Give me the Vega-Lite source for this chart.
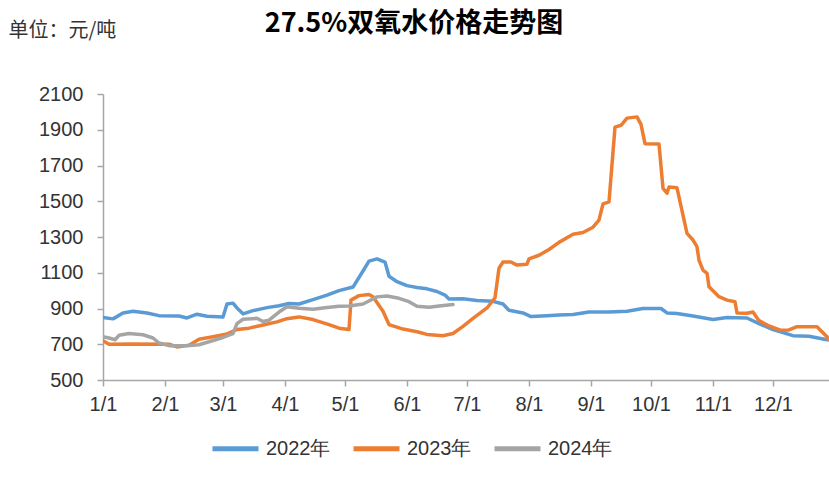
{
  "$schema": "https://vega.github.io/schema/vega-lite/v6.json",
  "autosize": "none",
  "width": 726,
  "height": 286,
  "padding": {"left": 103, "top": 94, "right": 0, "bottom": 106},
  "background": "white",
  "title": {
    "text": "27.5%双氧水价格走势图",
    "font": "Noto Sans CJK SC",
    "fontSize": 27,
    "fontWeight": "bold",
    "color": "#000000",
    "anchor": "middle",
    "frame": "group",
    "dx": -52,
    "dy": 18,
    "offset": 0
  },
  "data": {
    "values": [
      {"date": "2022/01/01", "series": "2022年", "price": 850},
      {"date": "2022/01/06", "series": "2022年", "price": 842},
      {"date": "2022/01/11", "series": "2022年", "price": 875},
      {"date": "2022/01/16", "series": "2022年", "price": 885},
      {"date": "2022/01/23", "series": "2022年", "price": 875},
      {"date": "2022/01/29", "series": "2022年", "price": 860},
      {"date": "2022/02/08", "series": "2022年", "price": 858},
      {"date": "2022/02/12", "series": "2022年", "price": 847},
      {"date": "2022/02/17", "series": "2022年", "price": 868},
      {"date": "2022/02/22", "series": "2022年", "price": 857},
      {"date": "2022/03/01", "series": "2022年", "price": 852},
      {"date": "2022/03/03", "series": "2022年", "price": 925},
      {"date": "2022/03/06", "series": "2022年", "price": 930},
      {"date": "2022/03/08", "series": "2022年", "price": 903},
      {"date": "2022/03/11", "series": "2022年", "price": 870},
      {"date": "2022/03/16", "series": "2022年", "price": 888},
      {"date": "2022/03/23", "series": "2022年", "price": 905},
      {"date": "2022/03/29", "series": "2022年", "price": 915},
      {"date": "2022/04/03", "series": "2022年", "price": 928},
      {"date": "2022/04/08", "series": "2022年", "price": 925},
      {"date": "2022/04/15", "series": "2022年", "price": 950},
      {"date": "2022/04/22", "series": "2022年", "price": 975},
      {"date": "2022/04/28", "series": "2022年", "price": 1000},
      {"date": "2022/05/05", "series": "2022年", "price": 1020},
      {"date": "2022/05/10", "series": "2022年", "price": 1110},
      {"date": "2022/05/13", "series": "2022年", "price": 1165},
      {"date": "2022/05/17", "series": "2022年", "price": 1178},
      {"date": "2022/05/21", "series": "2022年", "price": 1160},
      {"date": "2022/05/23", "series": "2022年", "price": 1080},
      {"date": "2022/05/27", "series": "2022年", "price": 1050},
      {"date": "2022/06/01", "series": "2022年", "price": 1028},
      {"date": "2022/06/06", "series": "2022年", "price": 1018},
      {"date": "2022/06/11", "series": "2022年", "price": 1010},
      {"date": "2022/06/16", "series": "2022年", "price": 995},
      {"date": "2022/06/20", "series": "2022年", "price": 975},
      {"date": "2022/06/22", "series": "2022年", "price": 953},
      {"date": "2022/06/29", "series": "2022年", "price": 955},
      {"date": "2022/07/06", "series": "2022年", "price": 945},
      {"date": "2022/07/14", "series": "2022年", "price": 940},
      {"date": "2022/07/19", "series": "2022年", "price": 925},
      {"date": "2022/07/22", "series": "2022年", "price": 890},
      {"date": "2022/07/29", "series": "2022年", "price": 875},
      {"date": "2022/08/02", "series": "2022年", "price": 855},
      {"date": "2022/08/10", "series": "2022年", "price": 860},
      {"date": "2022/08/16", "series": "2022年", "price": 863},
      {"date": "2022/08/23", "series": "2022年", "price": 867},
      {"date": "2022/08/31", "series": "2022年", "price": 880},
      {"date": "2022/09/10", "series": "2022年", "price": 880},
      {"date": "2022/09/19", "series": "2022年", "price": 885},
      {"date": "2022/09/27", "series": "2022年", "price": 900},
      {"date": "2022/10/06", "series": "2022年", "price": 900},
      {"date": "2022/10/09", "series": "2022年", "price": 875},
      {"date": "2022/10/14", "series": "2022年", "price": 872},
      {"date": "2022/10/22", "series": "2022年", "price": 858},
      {"date": "2022/11/01", "series": "2022年", "price": 838},
      {"date": "2022/11/08", "series": "2022年", "price": 850},
      {"date": "2022/11/18", "series": "2022年", "price": 847},
      {"date": "2022/11/24", "series": "2022年", "price": 815},
      {"date": "2022/12/01", "series": "2022年", "price": 782},
      {"date": "2022/12/11", "series": "2022年", "price": 748},
      {"date": "2022/12/19", "series": "2022年", "price": 745},
      {"date": "2022/12/28", "series": "2022年", "price": 725},

      {"date": "2023/01/01", "series": "2023年", "price": 720},
      {"date": "2023/01/04", "series": "2023年", "price": 700},
      {"date": "2023/01/16", "series": "2023年", "price": 702},
      {"date": "2023/02/03", "series": "2023年", "price": 700},
      {"date": "2023/02/07", "series": "2023年", "price": 685},
      {"date": "2023/02/13", "series": "2023年", "price": 695},
      {"date": "2023/02/18", "series": "2023年", "price": 728},
      {"date": "2023/02/25", "series": "2023年", "price": 742},
      {"date": "2023/03/03", "series": "2023年", "price": 757},
      {"date": "2023/03/08", "series": "2023年", "price": 783},
      {"date": "2023/03/14", "series": "2023年", "price": 790},
      {"date": "2023/03/21", "series": "2023年", "price": 808},
      {"date": "2023/03/28", "series": "2023年", "price": 825},
      {"date": "2023/04/02", "series": "2023年", "price": 843},
      {"date": "2023/04/08", "series": "2023年", "price": 853},
      {"date": "2023/04/15", "series": "2023年", "price": 838},
      {"date": "2023/04/23", "series": "2023年", "price": 810},
      {"date": "2023/04/28", "series": "2023年", "price": 790},
      {"date": "2023/05/03", "series": "2023年", "price": 782},
      {"date": "2023/05/04", "series": "2023年", "price": 947},
      {"date": "2023/05/08", "series": "2023年", "price": 972},
      {"date": "2023/05/13", "series": "2023年", "price": 978},
      {"date": "2023/05/15", "series": "2023年", "price": 966},
      {"date": "2023/05/20", "series": "2023年", "price": 885},
      {"date": "2023/05/23", "series": "2023年", "price": 810},
      {"date": "2023/05/30", "series": "2023年", "price": 785},
      {"date": "2023/06/06", "series": "2023年", "price": 770},
      {"date": "2023/06/11", "series": "2023年", "price": 755},
      {"date": "2023/06/19", "series": "2023年", "price": 748},
      {"date": "2023/06/24", "series": "2023年", "price": 760},
      {"date": "2023/06/29", "series": "2023年", "price": 800},
      {"date": "2023/07/04", "series": "2023年", "price": 845},
      {"date": "2023/07/11", "series": "2023年", "price": 903},
      {"date": "2023/07/15", "series": "2023年", "price": 960},
      {"date": "2023/07/17", "series": "2023年", "price": 1125},
      {"date": "2023/07/19", "series": "2023年", "price": 1160},
      {"date": "2023/07/23", "series": "2023年", "price": 1160},
      {"date": "2023/07/26", "series": "2023年", "price": 1143},
      {"date": "2023/07/31", "series": "2023年", "price": 1148},
      {"date": "2023/08/01", "series": "2023年", "price": 1178},
      {"date": "2023/08/06", "series": "2023年", "price": 1198},
      {"date": "2023/08/11", "series": "2023年", "price": 1230},
      {"date": "2023/08/16", "series": "2023年", "price": 1270},
      {"date": "2023/08/23", "series": "2023年", "price": 1315},
      {"date": "2023/08/28", "series": "2023年", "price": 1325},
      {"date": "2023/09/02", "series": "2023年", "price": 1355},
      {"date": "2023/09/05", "series": "2023年", "price": 1395},
      {"date": "2023/09/07", "series": "2023年", "price": 1485},
      {"date": "2023/09/10", "series": "2023年", "price": 1497},
      {"date": "2023/09/13", "series": "2023年", "price": 1915},
      {"date": "2023/09/16", "series": "2023年", "price": 1925},
      {"date": "2023/09/19", "series": "2023年", "price": 1965},
      {"date": "2023/09/24", "series": "2023年", "price": 1972},
      {"date": "2023/09/26", "series": "2023年", "price": 1930},
      {"date": "2023/09/28", "series": "2023年", "price": 1822},
      {"date": "2023/10/05", "series": "2023年", "price": 1820},
      {"date": "2023/10/07", "series": "2023年", "price": 1572},
      {"date": "2023/10/09", "series": "2023年", "price": 1545},
      {"date": "2023/10/10", "series": "2023年", "price": 1580},
      {"date": "2023/10/14", "series": "2023年", "price": 1575},
      {"date": "2023/10/19", "series": "2023年", "price": 1320},
      {"date": "2023/10/22", "series": "2023年", "price": 1283},
      {"date": "2023/10/24", "series": "2023年", "price": 1246},
      {"date": "2023/10/25", "series": "2023年", "price": 1170},
      {"date": "2023/10/27", "series": "2023年", "price": 1115},
      {"date": "2023/10/29", "series": "2023年", "price": 1097},
      {"date": "2023/10/30", "series": "2023年", "price": 1022},
      {"date": "2023/11/04", "series": "2023年", "price": 966},
      {"date": "2023/11/08", "series": "2023年", "price": 947},
      {"date": "2023/11/12", "series": "2023年", "price": 938},
      {"date": "2023/11/13", "series": "2023年", "price": 875},
      {"date": "2023/11/18", "series": "2023年", "price": 873},
      {"date": "2023/11/21", "series": "2023年", "price": 880},
      {"date": "2023/11/24", "series": "2023年", "price": 832},
      {"date": "2023/11/29", "series": "2023年", "price": 802},
      {"date": "2023/12/05", "series": "2023年", "price": 778},
      {"date": "2023/12/09", "series": "2023年", "price": 780},
      {"date": "2023/12/13", "series": "2023年", "price": 798},
      {"date": "2023/12/23", "series": "2023年", "price": 798},
      {"date": "2023/12/28", "series": "2023年", "price": 742},
      {"date": "2023/12/29", "series": "2023年", "price": 724},

      {"date": "2024/01/01", "series": "2024年", "price": 742},
      {"date": "2024/01/04", "series": "2024年", "price": 735},
      {"date": "2024/01/07", "series": "2024年", "price": 725},
      {"date": "2024/01/09", "series": "2024年", "price": 750},
      {"date": "2024/01/14", "series": "2024年", "price": 760},
      {"date": "2024/01/21", "series": "2024年", "price": 753},
      {"date": "2024/01/26", "series": "2024年", "price": 735},
      {"date": "2024/01/29", "series": "2024年", "price": 707},
      {"date": "2024/02/03", "series": "2024年", "price": 692},
      {"date": "2024/02/12", "series": "2024年", "price": 692},
      {"date": "2024/02/18", "series": "2024年", "price": 697},
      {"date": "2024/02/23", "series": "2024年", "price": 714},
      {"date": "2024/03/01", "series": "2024年", "price": 738},
      {"date": "2024/03/06", "series": "2024年", "price": 760},
      {"date": "2024/03/08", "series": "2024年", "price": 815},
      {"date": "2024/03/11", "series": "2024年", "price": 840},
      {"date": "2024/03/18", "series": "2024年", "price": 845},
      {"date": "2024/03/21", "series": "2024年", "price": 827},
      {"date": "2024/03/24", "series": "2024年", "price": 835},
      {"date": "2024/03/29", "series": "2024年", "price": 880},
      {"date": "2024/04/02", "series": "2024年", "price": 910},
      {"date": "2024/04/08", "series": "2024年", "price": 902},
      {"date": "2024/04/15", "series": "2024年", "price": 896},
      {"date": "2024/04/22", "series": "2024年", "price": 905},
      {"date": "2024/04/28", "series": "2024年", "price": 913},
      {"date": "2024/05/03", "series": "2024年", "price": 914},
      {"date": "2024/05/10", "series": "2024年", "price": 925},
      {"date": "2024/05/17", "series": "2024年", "price": 965},
      {"date": "2024/05/22", "series": "2024年", "price": 970},
      {"date": "2024/05/28", "series": "2024年", "price": 957},
      {"date": "2024/06/02", "series": "2024年", "price": 938},
      {"date": "2024/06/06", "series": "2024年", "price": 912},
      {"date": "2024/06/12", "series": "2024年", "price": 907},
      {"date": "2024/06/17", "series": "2024年", "price": 914},
      {"date": "2024/06/24", "series": "2024年", "price": 922}
    ]
  },
  "mark": {"type": "line", "strokeWidth": 3.5, "strokeJoin": "round", "strokeCap": "round", "clip": true},
  "encoding": {
    "x": {
      "field": "date",
      "type": "temporal",
      "timeUnit": "monthdate",
      "scale": {"domain": [{"month": 1, "date": 1}, {"month": 12, "date": 29}]},
      "axis": {
        "title": null,
        "format": "%-m/%-d",
        "values": [
          {"month": 1, "date": 1}, {"month": 2, "date": 1}, {"month": 3, "date": 1},
          {"month": 4, "date": 1}, {"month": 5, "date": 1}, {"month": 6, "date": 1},
          {"month": 7, "date": 1}, {"month": 8, "date": 1}, {"month": 9, "date": 1},
          {"month": 10, "date": 1}, {"month": 11, "date": 1}, {"month": 12, "date": 1}
        ],
        "grid": false,
        "domainColor": "#a6a6a6",
        "domainWidth": 1.5,
        "tickColor": "#a6a6a6",
        "tickWidth": 1.5,
        "tickSize": 6,
        "labelFont": "Liberation Sans",
        "labelFontSize": 20,
        "labelColor": "#333333",
        "labelPadding": 8,
        "labelFlush": false,
        "labelOverlap": false
      }
    },
    "y": {
      "field": "price",
      "type": "quantitative",
      "scale": {"domain": [500, 2100], "nice": false, "zero": false},
      "axis": {
        "title": "单位：元/吨",
        "titleAngle": 0,
        "titleAlign": "left",
        "titleBaseline": "middle",
        "titleX": -95,
        "titleY": -64,
        "titleFont": "Noto Sans CJK SC",
        "titleFontSize": 20,
        "titleFontWeight": "normal",
        "titleColor": "#333333",
        "values": [500, 700, 900, 1100, 1300, 1500, 1700, 1900, 2100],
        "format": "d",
        "grid": false,
        "domainColor": "#a6a6a6",
        "domainWidth": 1.5,
        "tickColor": "#a6a6a6",
        "tickWidth": 1.5,
        "tickSize": 6,
        "labelFont": "Liberation Sans",
        "labelFontSize": 20,
        "labelColor": "#333333",
        "labelPadding": 14
      }
    },
    "color": {
      "field": "series",
      "type": "nominal",
      "scale": {"domain": ["2022年", "2023年", "2024年"], "range": ["#5B9BD5", "#ED7D31", "#A5A5A5"]},
      "legend": {
        "title": null,
        "orient": "none",
        "legendX": 107,
        "legendY": 329,
        "direction": "horizontal",
        "symbolType": "stroke",
        "symbolSize": 2116,
        "symbolStrokeWidth": 5,
        "labelFont": "Liberation Sans",
        "labelFontSize": 20,
        "labelColor": "#333333",
        "labelOffset": 5,
        "columnPadding": 12,
        "padding": 0
      }
    }
  },
  "config": {
    "view": {"stroke": null},
    "font": "Liberation Sans"
  }
}
